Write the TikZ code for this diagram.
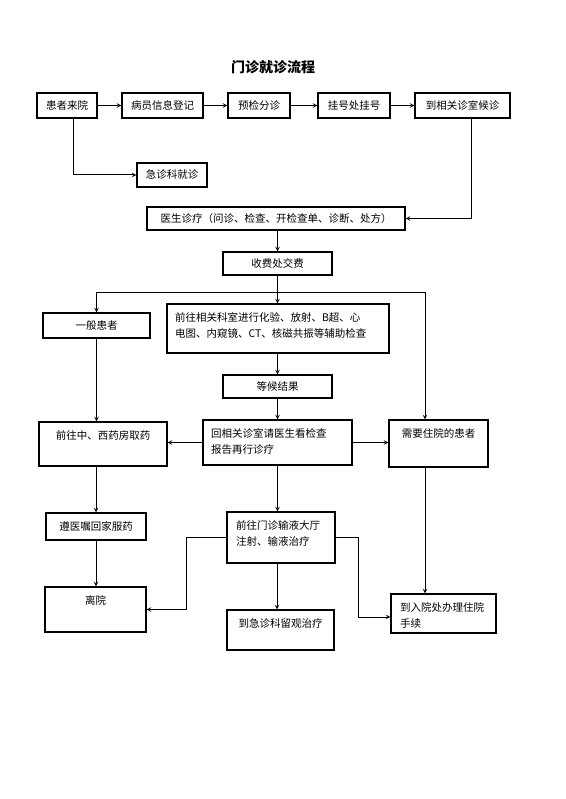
\documentclass[tikz,border=0pt]{standalone}
\usepackage{fontspec}
\setmainfont{Noto Sans CJK SC}
\usetikzlibrary{arrows,positioning}

\newcommand{\topcell}[3]{\parbox[c][#2pt][t]{#1pt}{\vspace*{7pt}\strut #3}}

\begin{document}
\begin{tikzpicture}[
    x=1pt, y=-1pt,
    stepbox/.style={rectangle, draw, line width=1.3pt, inner sep=0pt, font=\fontsize{10.5}{15.5}\selectfont},
    arrow/.style={->, >=stealth, line width=1pt}
]
\useasboundingbox[fill=white] (0,0) rectangle (565,799);

% Title
\node[font=\fontsize{14}{16}\selectfont\bfseries] (title) at (273,67) {门诊就诊流程};

% Registration row
\node[stepbox, minimum width=60, minimum height=25] (arrive) at (67,105.5) {患者来院};
\node[stepbox, minimum width=81, minimum height=25] (register) at (162.5,105.5) {病员信息登记};
\node[stepbox, minimum width=62, minimum height=25] (triage) at (259,105.5) {预检分诊};
\node[stepbox, minimum width=72, minimum height=25] (regist) at (354,105.5) {挂号处挂号};
\node[stepbox, minimum width=95, minimum height=25] (wait) at (462.5,105.5) {到相关诊室候诊};
\node[stepbox, minimum width=70, minimum height=24] (emerg) at (172,175) {急诊科就诊};

% Doctor and payment
\node[stepbox, minimum width=258, minimum height=23] (doctor) at (276,218.5) {医生诊疗（问诊、检查、开检查单、诊断、处方）};
\node[stepbox, minimum width=109, minimum height=23] (pay) at (277.5,263.5) {收费处交费};

% Examination
\node[stepbox, minimum width=107, minimum height=25] (general) at (96.5,325.5) {一般患者};
\node[stepbox, inner xsep=8pt] (exam) at (278,328.5) {\topcell{206}{49}{前往相关科室进行化验、放射、B超、心\\电图、内窥镜、CT、核磁共振等辅助检查}};
\node[stepbox, minimum width=109, minimum height=23] (result) at (277.5,386.5) {等候结果};

% Treatment
\node[stepbox] (pharmacy) at (103,444) {\topcell{128}{44}{\centering 前往中、西药房取药}};
\node[stepbox, inner xsep=8pt] (review) at (277.5,442.5) {\topcell{133}{45}{回相关诊室请医生看检查\\报告再行诊疗}};
\node[stepbox] (inpatient) at (438.5,443.5) {\topcell{99}{47}{\centering 需要住院的患者}};
\node[stepbox, minimum width=100, minimum height=27] (home) at (96,526.5) {遵医嘱回家服药};
\node[stepbox, inner xsep=9pt] (infusion) at (281,537.5) {\topcell{90}{51}{前往门诊输液大厅\\注射、输液治疗}};

% Endings
\node[stepbox] (leave) at (95.5,609.5) {\topcell{101}{45}{\centering 离院}};
\node[stepbox] (observe) at (280.5,630) {\topcell{107}{40}{\centering 到急诊科留观治疗}};
\node[stepbox, inner xsep=9pt] (admit) at (443.5,613.5) {\topcell{87}{39}{到入院处办理住院\\手续}};

% Registration arrows
\draw[arrow] (arrive) -- (register);
\draw[arrow] (register) -- (triage);
\draw[arrow] (triage) -- (regist);
\draw[arrow] (regist) -- (wait);
\draw[arrow] ([xshift=6pt]arrive.south) |- (emerg.west);
\draw[arrow] ([xshift=8.5pt]wait.south) |- (doctor.east);

% Main column
\draw[arrow] (pay.north |- doctor.south) -- (pay.north);
\draw[arrow] (pay.south) -- (pay.south |- exam.north);
\coordinate (fork) at (277.5,292);
\draw[arrow] (fork) -| (general.north);
\draw[arrow] (fork) -| ([xshift=-13.5pt]inpatient.north);
\draw[arrow] (result.north |- exam.south) -- (result.north);
\draw[arrow] (result) -- (review);

% Branches from review
\draw[arrow] (review.west) -- (review.west -| pharmacy.east);
\draw[arrow] (review.east) -- (review.east -| inpatient.west);
\draw[arrow] (review.south) -- (review.south |- infusion.north);

% Left column
\draw[arrow] (general.south) -- (general.south |- pharmacy.north);
\draw[arrow] ([xshift=-7pt]pharmacy.south) -- ([xshift=-7pt]pharmacy.south |- home.north);
\draw[arrow] (home.south) -- (home.south |- leave.north);

% From infusion
\draw[arrow] (infusion.west) -- ++(-40,0) |- (leave.east);
\draw[arrow] ([xshift=-4pt]infusion.south) -- ([xshift=-4pt]infusion.south |- observe.north);
\draw[arrow] (infusion.east) -- ++(23,0) |- ([yshift=-3.5pt]admit.west);

% Right column
\draw[arrow] ([xshift=-13.5pt]inpatient.south) -- ([xshift=-13.5pt]inpatient.south |- admit.north);

\end{tikzpicture}
\end{document}
